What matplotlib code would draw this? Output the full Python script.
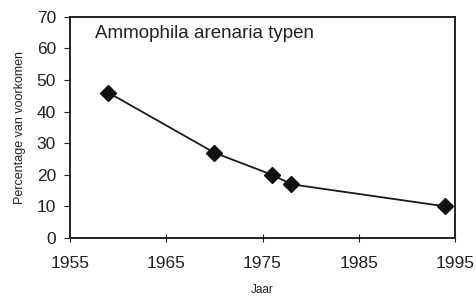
import matplotlib
matplotlib.use('Agg')
import matplotlib.pyplot as plt

plt.rcParams['font.family'] = ['Liberation Sans', 'DejaVu Sans']

# Ammophila arenaria types, percentage of occurrence per year
jaar = [1959, 1970, 1976, 1978, 1994]
percentage = [46, 27, 20, 17, 10]

xticks = [1955, 1965, 1975, 1985, 1995]
yticks = [0, 10, 20, 30, 40, 50, 60, 70]

fig = plt.figure(figsize=(4.76, 3.02), dpi=100)
ax = fig.add_axes([0.147, 0.212, 0.809, 0.732])

ax.plot(jaar, percentage, color='#1a1a1a', lw=1.3, marker='D', ms=8,
        mfc='#111111', mec='#111111')

ax.set_xlim(1955, 1995)
ax.set_ylim(0, 70)
ax.set_xticks(xticks)
ax.set_yticks(yticks)
ax.tick_params(axis='x', direction='inout', length=6, labelsize=12.5, pad=10, colors='#222222')
ax.tick_params(axis='y', direction='out', length=4, labelsize=12.5, pad=6, colors='#222222')
for s in ax.spines.values():
    s.set_linewidth(1.4)
    s.set_color('#222222')

ax.text(0.065, 0.965, 'Ammophila arenaria typen', transform=ax.transAxes,
        fontsize=13.5, va='top', ha='left', color='#222222')

ax.set_xlabel('Jaar', fontsize=8.5, color='#222222', labelpad=9)
ax.set_ylabel('Percentage van voorkomen', fontsize=9, color='#222222', labelpad=8)

plt.savefig('out.png', dpi=100)
